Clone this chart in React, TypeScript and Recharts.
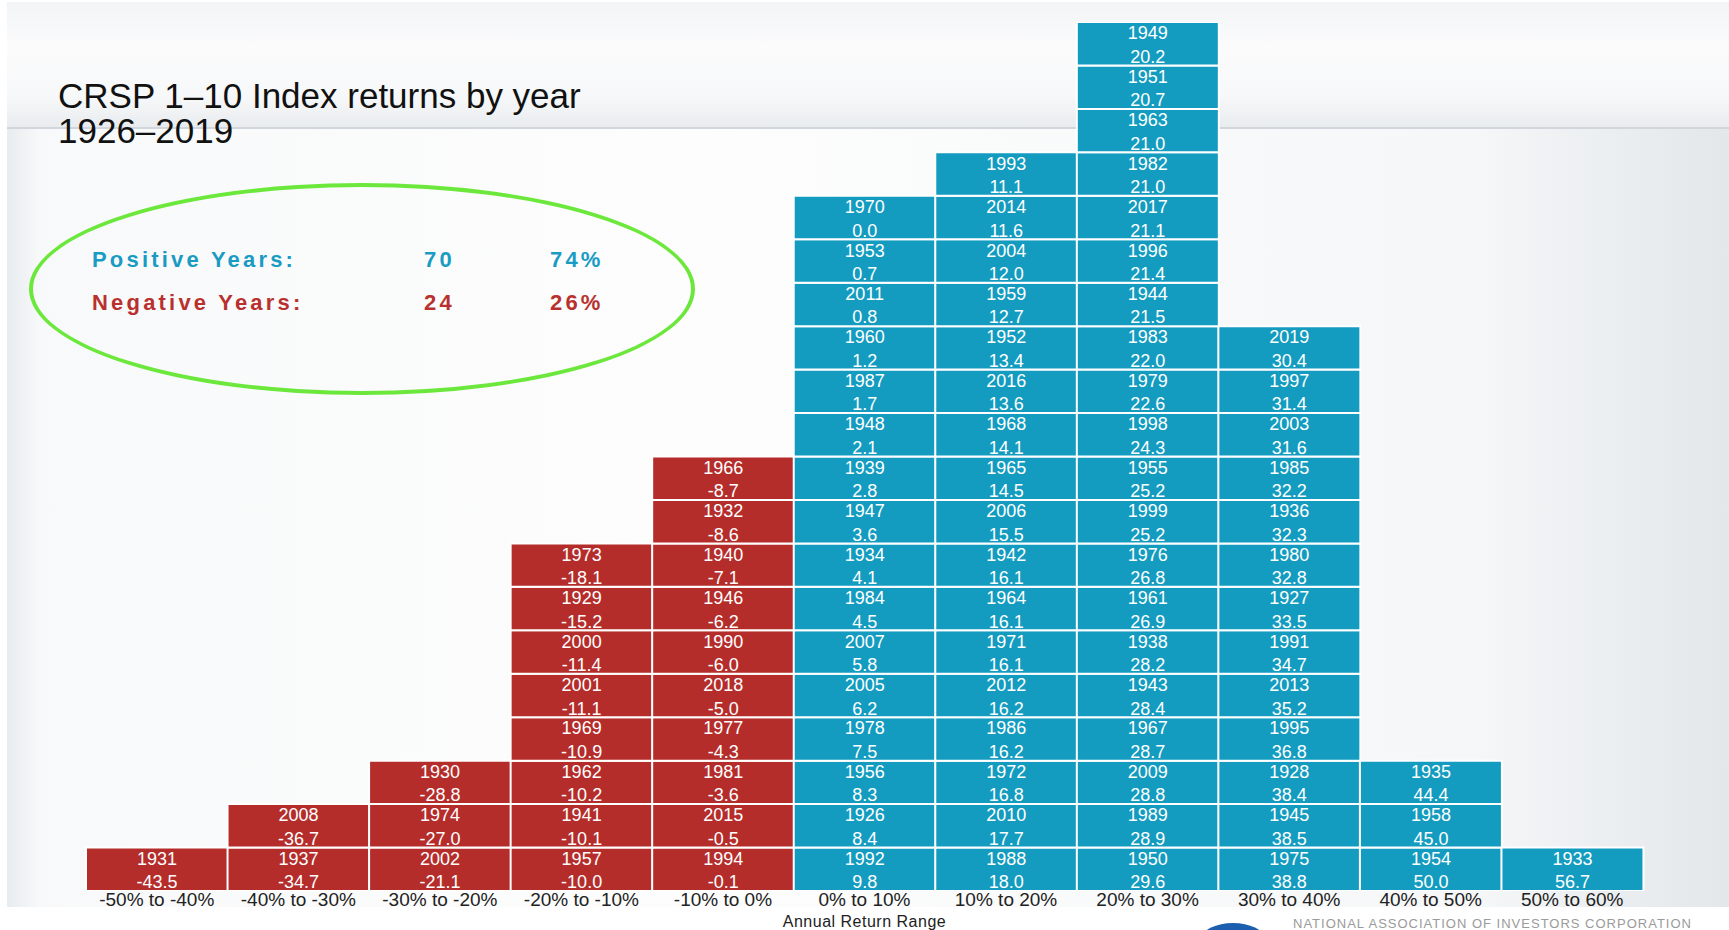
import React from "react";
import { BarChart, Bar, XAxis, YAxis, Cell, LabelList, Label } from "recharts";

const FONT = "'Liberation Sans', Arial, sans-serif";
const BLUE = "#139cc0";
const RED = "#b52d2b";

const RANGES = [
  "-50% to -40%",
  "-40% to -30%",
  "-30% to -20%",
  "-20% to -10%",
  "-10% to 0%",
  "0% to 10%",
  "10% to 20%",
  "20% to 30%",
  "30% to 40%",
  "40% to 50%",
  "50% to 60%",
];

// years in each range, bottom cell first
const RANGE_YEARS = [
  [1931],
  [1937, 2008],
  [2002, 1974, 1930],
  [1957, 1941, 1962, 1969, 2001, 2000, 1929, 1973],
  [1994, 2015, 1981, 1977, 2018, 1990, 1946, 1940, 1932, 1966],
  [1992, 1926, 1956, 1978, 2005, 2007, 1984, 1934, 1947, 1939, 1948, 1987, 1960, 2011, 1953, 1970],
  [1988, 2010, 1972, 1986, 2012, 1971, 1964, 1942, 2006, 1965, 1968, 2016, 1952, 1959, 2004, 2014, 1993],
  [1950, 1989, 2009, 1967, 1943, 1938, 1961, 1976, 1999, 1955, 1998, 1979, 1983, 1944, 1996, 2017, 1982, 1963, 1951, 1949],
  [1975, 1945, 1928, 1995, 2013, 1991, 1927, 1980, 1936, 1985, 2003, 1997, 2019],
  [1954, 1958, 1935],
  [1933],
];

// annual return (%) for the same cells
const RANGE_RETURNS = [
  [-43.5],
  [-34.7, -36.7],
  [-21.1, -27.0, -28.8],
  [-10.0, -10.1, -10.2, -10.9, -11.1, -11.4, -15.2, -18.1],
  [-0.1, -0.5, -3.6, -4.3, -5.0, -6.0, -6.2, -7.1, -8.6, -8.7],
  [9.8, 8.4, 8.3, 7.5, 6.2, 5.8, 4.5, 4.1, 3.6, 2.8, 2.1, 1.7, 1.2, 0.8, 0.7, 0.0],
  [18.0, 17.7, 16.8, 16.2, 16.2, 16.1, 16.1, 16.1, 15.5, 14.5, 14.1, 13.6, 13.4, 12.7, 12.0, 11.6, 11.1],
  [29.6, 28.9, 28.8, 28.7, 28.4, 28.2, 26.9, 26.8, 25.2, 25.2, 24.3, 22.6, 22.0, 21.5, 21.4, 21.1, 21.0, 21.0, 20.7, 20.2],
  [38.8, 38.5, 38.4, 36.8, 35.2, 34.7, 33.5, 32.8, 32.3, 32.2, 31.6, 31.4, 30.4],
  [50.0, 45.0, 44.4],
  [56.7],
];

const LEVELS = Math.max(...RANGE_YEARS.map((y) => y.length));

const data = RANGES.map((range, i) => {
  const row: Record<string, any> = { range };
  RANGE_YEARS[i].forEach((_, k) => {
    row[`l${k}`] = 1;
  });
  return row;
});

const allReturns = RANGE_RETURNS.flat();
const positiveCount = allReturns.filter((r) => r >= 0).length;
const negativeCount = allReturns.length - positiveCount;
const pct = (n: number) => `${Math.round((n / allReturns.length) * 100)}%`;

// label value is the range name, so look the bin up from it
const cellLabel = (level: number) => (props: any) => {
  const { x, y, width, height, value } = props;
  const i = RANGES.indexOf(value);
  const year = i >= 0 ? RANGE_YEARS[i][level] : undefined;
  if (year === undefined || height == null || isNaN(y)) return null;
  const cx = x + width / 2;
  return (
    <g key={`lbl-${level}-${i}`}>
      <text x={cx} y={y + height * 0.26} textAnchor="middle" dominantBaseline="central" fill="#fff" fontSize={18}>
        {year}
      </text>
      <text x={cx} y={y + height * 0.8} textAnchor="middle" dominantBaseline="central" fill="#fff" fontSize={18}>
        {RANGE_RETURNS[i][level].toFixed(1)}
      </text>
    </g>
  );
};

const summaryRow = (label: string, count: number, color: string, top: number) => (
  <div
    style={{
      position: "absolute",
      left: 92,
      top,
      height: 24,
      lineHeight: "24px",
      fontSize: 22,
      fontWeight: 700,
      letterSpacing: 3.2,
      color,
      fontFamily: FONT,
    }}
  >
    <span style={{ position: "absolute", left: 0, whiteSpace: "nowrap" }}>{label}</span>
    <span style={{ position: "absolute", left: 332 }}>{count}</span>
    <span style={{ position: "absolute", left: 458 }}>{pct(count)}</span>
  </div>
);

export default function App() {
  return (
    <div
      style={{
        position: "absolute",
        left: 0,
        top: 0,
        width: 1729,
        height: 930,
        overflow: "hidden",
        background: "#fff",
        fontFamily: FONT,
      }}
    >
      {/* slide background */}
      <div
        style={{
          position: "absolute",
          left: 7,
          top: 2,
          width: 1722,
          height: 905,
          background:
            "linear-gradient(to right, #e8ecef 0%, #f8f9fa 2%, #fdfdfd 40%, #f5f7f8 85%, #e3e7ea 100%)",
        }}
      />
      <div
        style={{
          position: "absolute",
          left: 7,
          top: 2,
          width: 1722,
          height: 125,
          background: "linear-gradient(to bottom, #f2f4f6 0%, #fbfbfc 35%, #f7f8f9 75%, #e9ecef 100%)",
          borderBottom: "2px solid #d0d6db",
        }}
      />

      {/* title */}
      <div
        style={{
          position: "absolute",
          left: 58,
          top: 78,
          fontSize: 35,
          lineHeight: "35px",
          color: "#111",
        }}
      >
        CRSP 1–10 Index returns by year
        <br />
        1926–2019
      </div>

      {/* summary ellipse */}
      <div
        style={{
          position: "absolute",
          left: 29,
          top: 183,
          width: 666,
          height: 212,
          boxSizing: "border-box",
          border: "4px solid #6be83b",
          borderRadius: "50%",
        }}
      />
      {summaryRow("Positive Years:", positiveCount, "#1a9bc4", 248)}
      {summaryRow("Negative Years:", negativeCount, "#b8312f", 291)}

      <div style={{ position: "absolute", left: 0, top: 0 }}>
        <BarChart
          width={1729}
          height={930}
          data={data}
          margin={{ top: 22, right: 86, bottom: 0, left: 86 }}
          barCategoryGap={0}
          barGap={0}
          style={{ fontFamily: FONT }}
        >
          <YAxis hide type="number" domain={[0, LEVELS]} allowDataOverflow />
          <XAxis
            dataKey="range"
            height={39}
            interval={0}
            tickLine={false}
            axisLine={false}
            tickSize={0}
            tickMargin={2}
            tick={{ fill: "#222", fontSize: 19 }}
          >
            <Label value="Annual Return Range" position="insideBottom" offset={3} fill="#222" fontSize={16} letterSpacing={0.5} />
          </XAxis>
          {Array.from({ length: LEVELS }, (_, k) => (
            <Bar
              key={k}
              dataKey={`l${k}`}
              stackId="years"
              stroke="#fff"
              strokeWidth={2}
              isAnimationActive={false}
            >
              {data.map((_, i) => (
                <Cell key={i} fill={RANGE_RETURNS[i][0] < 0 ? RED : BLUE} />
              ))}
              <LabelList dataKey="range" content={cellLabel(k)} />
            </Bar>
          ))}
        </BarChart>
      </div>

      {/* footer logo strip */}
      <div
        style={{
          position: "absolute",
          left: 1202,
          top: 923,
          width: 62,
          height: 30,
          borderRadius: "50%",
          background: "#1b5fae",
        }}
      />
      <div
        style={{
          position: "absolute",
          left: 1293,
          top: 917,
          fontSize: 13,
          lineHeight: "13px",
          letterSpacing: 1,
          color: "#9a9a9a",
          whiteSpace: "nowrap",
        }}
      >
        NATIONAL ASSOCIATION OF INVESTORS CORPORATION
      </div>
    </div>
  );
}
